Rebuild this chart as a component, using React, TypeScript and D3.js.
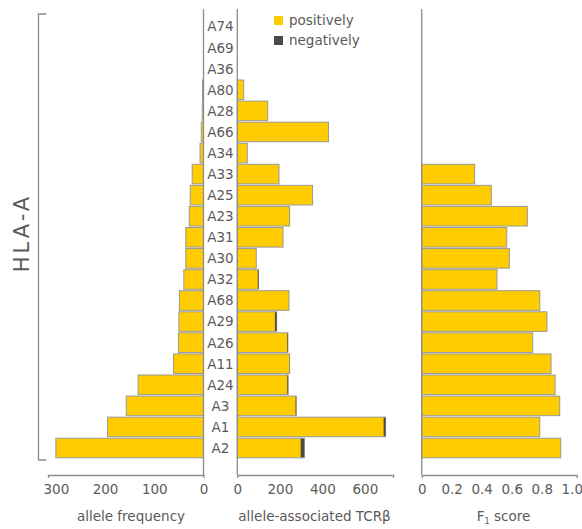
import * as d3 from "d3";
import React, { useRef, useEffect } from "react";

const categories = ["A74", "A69", "A36", "A80", "A28", "A66", "A34", "A33", "A25", "A23", "A31", "A30", "A32", "A68", "A29", "A26", "A11", "A24", "A3", "A1", "A2"];
const alleleFrequency = [0, 0, 0, 2, 2.5, 4.5, 7, 23, 27, 29, 36, 36, 40, 49, 50, 51, 61, 133, 157, 195, 300];
const tcrPositive = [0, 0, 0, 30, 143, 429, 47, 196, 354, 246, 215, 89, 96, 243, 177, 235, 245, 235, 274, 688, 298];
const tcrNegative = [0, 0, 0, 0, 0, 0, 0, 0, 0, 0, 0, 0, 4, 0, 8, 3, 1, 4, 3, 9, 17];
const f1Score = [null, null, null, null, null, null, null, 0.353, 0.464, 0.704, 0.567, 0.584, 0.502, 0.787, 0.835, 0.74, 0.862, 0.889, 0.92, 0.787, 0.927];

const leftTicks = [0, 100, 200, 300];
const midTicks = [0, 200, 400, 600];
const rightTicks = [0, 0.2, 0.4, 0.6, 0.8, 1.0];
const legendItems = ["positively", "negatively"];

const YELLOW = "#FFCC00";
const DARK = "#4a4a4a";
const TEXT = "#5a5a5a";
const LINE = "#8c8c8c";
const FONT = "'DejaVu Sans', sans-serif";

const draw = (node) => {
  const svg = d3.select(node);
  svg.selectAll("*").remove();

  const axisY = 475;
  const lineTop = 9;

  const y = d3.scaleBand().domain(categories).range([16.8, 457.8]).paddingInner(0.07);
  const xLeft = d3.scaleLinear().domain([0, 316]).range([203.5, 48]);
  const xMid = d3.scaleLinear().domain([0, 732]).range([237.3, 393]);
  const xRight = d3.scaleLinear().domain([0, 1.033]).range([421.7, 576.7]);

  const g = svg.append("g");

  // left panel: allele frequency (bars grow leftwards)
  g.selectAll(".left")
    .data(categories)
    .enter()
    .append("rect")
    .attr("x", (d, i) => xLeft(alleleFrequency[i]))
    .attr("y", (d) => y(d))
    .attr("width", (d, i) => xLeft(0) - xLeft(alleleFrequency[i]))
    .attr("height", y.bandwidth())
    .style("fill", YELLOW)
    .style("stroke", "#999")
    .style("stroke-width", 1)
    .style("display", (d, i) => (alleleFrequency[i] > 0 ? null : "none"));

  // middle panel: positive + negative TCRb
  g.selectAll(".midpos")
    .data(categories)
    .enter()
    .append("rect")
    .attr("x", xMid(0))
    .attr("y", (d) => y(d))
    .attr("width", (d, i) => xMid(tcrPositive[i] + tcrNegative[i]) - xMid(0))
    .attr("height", y.bandwidth())
    .style("fill", YELLOW)
    .style("stroke", "#999")
    .style("stroke-width", 1)
    .style("display", (d, i) => (tcrPositive[i] > 0 ? null : "none"));

  g.selectAll(".midneg")
    .data(categories)
    .enter()
    .append("rect")
    .attr("x", (d, i) => xMid(tcrPositive[i]))
    .attr("y", (d) => y(d) + 0.5)
    .attr("width", (d, i) => xMid(tcrPositive[i] + tcrNegative[i]) - xMid(tcrPositive[i]))
    .attr("height", y.bandwidth() - 1)
    .style("fill", DARK)
    .style("display", (d, i) => (tcrNegative[i] > 0 ? null : "none"));

  // right panel: F1 score
  g.selectAll(".right")
    .data(categories)
    .enter()
    .append("rect")
    .attr("x", xRight(0))
    .attr("y", (d) => y(d))
    .attr("width", (d, i) => (f1Score[i] == null ? 0 : xRight(f1Score[i]) - xRight(0)))
    .attr("height", y.bandwidth())
    .style("fill", YELLOW)
    .style("stroke", "#999")
    .style("stroke-width", 1)
    .style("display", (d, i) => (f1Score[i] == null ? "none" : null));

  // vertical baselines
  [xLeft(0), xMid(0), xRight(0)].forEach((x) => {
    g.append("line")
      .attr("x1", x)
      .attr("x2", x)
      .attr("y1", lineTop)
      .attr("y2", axisY)
      .style("stroke", LINE)
      .style("stroke-width", 1.3);
  });

  // category labels
  g.selectAll(".cat")
    .data(categories)
    .enter()
    .append("text")
    .attr("x", (xLeft(0) + xMid(0)) / 2)
    .attr("y", (d) => y(d) + y.bandwidth() / 2)
    .attr("dy", "0.36em")
    .style("text-anchor", "middle")
    .style("font-family", FONT)
    .style("font-size", "13.5px")
    .style("fill", TEXT)
    .text((d) => d);

  // bottom axes
  const axes = [
    { scale: xLeft, ticks: leftTicks, fmt: (v) => String(v) },
    { scale: xMid, ticks: midTicks, fmt: (v) => String(v) },
    { scale: xRight, ticks: rightTicks, fmt: (v) => (v === 0 ? "0" : v.toFixed(1)) },
  ];

  axes.forEach((a) => {
    const axis = d3
      .axisBottom(a.scale)
      .tickValues(a.ticks)
      .tickFormat(a.fmt)
      .tickSizeInner(0)
      .tickSizeOuter(3)
      .tickPadding(9);
    const ga = g
      .append("g")
      .attr("transform", "translate(0," + axisY + ")")
      .call(axis);
    ga.select(".domain").style("stroke", LINE).style("stroke-width", 1.3);
    ga.selectAll("text")
      .style("font-family", FONT)
      .style("font-size", "13.5px")
      .style("fill", TEXT);
  });

  // axis titles
  const titleY = 521;
  g.append("text")
    .attr("x", 131)
    .attr("y", titleY)
    .style("text-anchor", "middle")
    .style("font-family", FONT)
    .style("font-size", "13.5px")
    .style("fill", TEXT)
    .text("allele frequency");

  g.append("text")
    .attr("x", 314.5)
    .attr("y", titleY)
    .style("text-anchor", "middle")
    .style("font-family", FONT)
    .style("font-size", "13.5px")
    .style("fill", TEXT)
    .text("allele-associated TCRβ");

  const f1 = g
    .append("text")
    .attr("x", 503.5)
    .attr("y", titleY)
    .style("text-anchor", "middle")
    .style("font-family", FONT)
    .style("font-size", "13.5px")
    .style("fill", TEXT);
  f1.append("tspan").text("F");
  f1.append("tspan").attr("dy", 3).style("font-size", "8px").text("1");
  f1.append("tspan").attr("dy", -3).text(" score");

  // legend
  legendItems.forEach((name, i) => {
    g.append("rect")
      .attr("x", 274)
      .attr("y", 16 + i * 20)
      .attr("width", 9)
      .attr("height", 9)
      .style("fill", i === 0 ? YELLOW : DARK);
    g.append("text")
      .attr("x", 289)
      .attr("y", 20.5 + i * 20)
      .attr("dy", "0.36em")
      .style("font-family", FONT)
      .style("font-size", "13.5px")
      .style("fill", TEXT)
      .text(name);
  });

  // HLA-A bracket
  const bx = 38.5;
  const bTop = 14;
  const bBottom = 460;
  g.append("path")
    .attr("d", `M${bx + 8},${bTop}H${bx}V${bBottom}H${bx + 8}`)
    .style("fill", "none")
    .style("stroke", LINE)
    .style("stroke-width", 1.3);

  g.append("text")
    .attr("transform", "translate(28.5,233) rotate(-90)")
    .style("text-anchor", "middle")
    .style("font-family", FONT)
    .style("font-size", "21px")
    .style("letter-spacing", "3px")
    .style("fill", TEXT)
    .text("HLA-A");
};

export default function App() {
  const ref = useRef(null);

  useEffect(() => {
    draw(ref.current);
  }, []);

  return (
    <svg
      ref={ref}
      width={582}
      height={529}
      style={{ position: "absolute", left: 0, top: 0, background: "#fff" }}
    />
  );
}
